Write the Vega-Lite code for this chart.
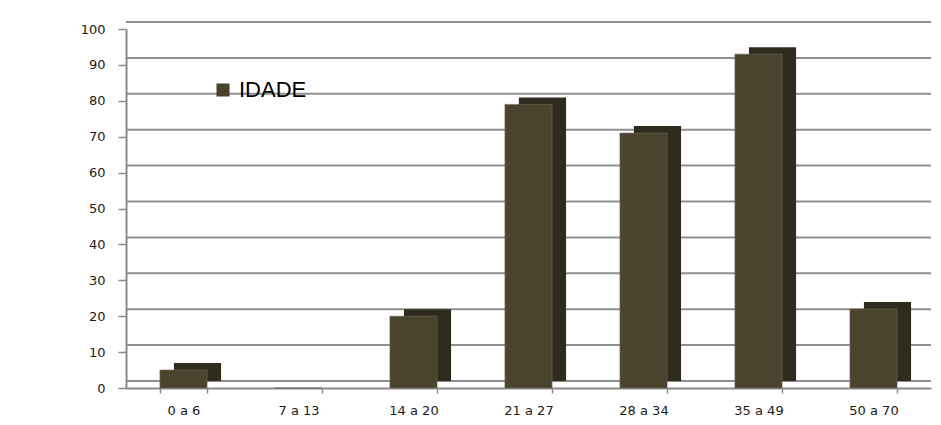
{
  "$schema": "https://vega.github.io/schema/vega-lite/v6.json",
  "width": 805,
  "height": 359,
  "autosize": {"type": "none"},
  "padding": {"left": 126, "top": 29, "right": 10, "bottom": 37},
  "background": "white",
  "config": {"view": {"stroke": null}},
  "datasets": {
    "ages": [
      {"faixa": "0 a 6", "value": 5},
      {"faixa": "7 a 13", "value": 0},
      {"faixa": "14 a 20", "value": 20},
      {"faixa": "21 a 27", "value": 79},
      {"faixa": "28 a 34", "value": 71},
      {"faixa": "35 a 49", "value": 93},
      {"faixa": "50 a 70", "value": 22}
    ],
    "grid": [
      {"value": 0}, {"value": 10}, {"value": 20}, {"value": 30}, {"value": 40},
      {"value": 50}, {"value": 60}, {"value": 70}, {"value": 80}, {"value": 90}, {"value": 100}
    ]
  },
  "encoding": {
    "y": {
      "field": "value",
      "type": "quantitative",
      "scale": {"domain": [0, 100], "nice": false},
      "axis": {
        "title": null,
        "values": [0, 10, 20, 30, 40, 50, 60, 70, 80, 90, 100],
        "grid": false,
        "domainColor": "#8a8a8a",
        "domainWidth": 2,
        "tickColor": "#8a8a8a",
        "tickWidth": 1.5,
        "tickSize": 8,
        "labelPadding": 13,
        "labelFont": "DejaVu Sans",
        "labelFontSize": 13,
        "labelColor": "#1a1a1a"
      }
    }
  },
  "layer": [
    {
      "data": {"name": "grid"},
      "mark": {"type": "rule", "yOffset": -7, "color": "#8f8f8f", "strokeWidth": 2}
    },
    {
      "data": {"name": "ages"},
      "mark": {"type": "bar", "xOffset": 14, "yOffset": -7, "color": "#302c1d"},
      "encoding": {
        "x": {
          "field": "faixa",
          "type": "nominal",
          "sort": null,
          "scale": {"paddingInner": 0.59, "paddingOuter": 0.295},
          "axis": {
            "title": null,
            "labelAngle": 0,
            "tickBand": "extent",
            "domainColor": "#8a8a8a",
            "domainWidth": 2,
            "tickColor": "#8a8a8a",
            "tickWidth": 1.5,
            "tickSize": 5,
            "labelPadding": 11,
            "labelFont": "DejaVu Sans",
            "labelFontSize": 13,
            "labelColor": "#1a1a1a"
          }
        }
      }
    },
    {
      "data": {"name": "ages"},
      "mark": {"type": "bar", "stroke": "#6e6a58", "strokeWidth": 0.6},
      "encoding": {
        "x": {
          "field": "faixa",
          "type": "nominal",
          "sort": null,
          "scale": {"paddingInner": 0.59, "paddingOuter": 0.295},
          "axis": {
            "title": null,
            "labelAngle": 0,
            "tickBand": "extent",
            "domainColor": "#8a8a8a",
            "domainWidth": 2,
            "tickColor": "#8a8a8a",
            "tickWidth": 1.5,
            "tickSize": 5,
            "labelPadding": 11,
            "labelFont": "DejaVu Sans",
            "labelFontSize": 13,
            "labelColor": "#1a1a1a"
          }
        },
        "color": {
          "datum": "IDADE",
          "type": "nominal",
          "scale": {"range": ["#4a442e"]},
          "legend": {
            "title": null,
            "orient": "none",
            "legendX": 86,
            "legendY": 50,
            "padding": 0,
            "symbolType": "square",
            "symbolSize": 170,
            "symbolStrokeWidth": 0,
            "labelFont": "Liberation Sans",
            "labelFontSize": 22,
            "labelColor": "#000000",
            "labelOffset": 5
          }
        }
      }
    }
  ]
}
